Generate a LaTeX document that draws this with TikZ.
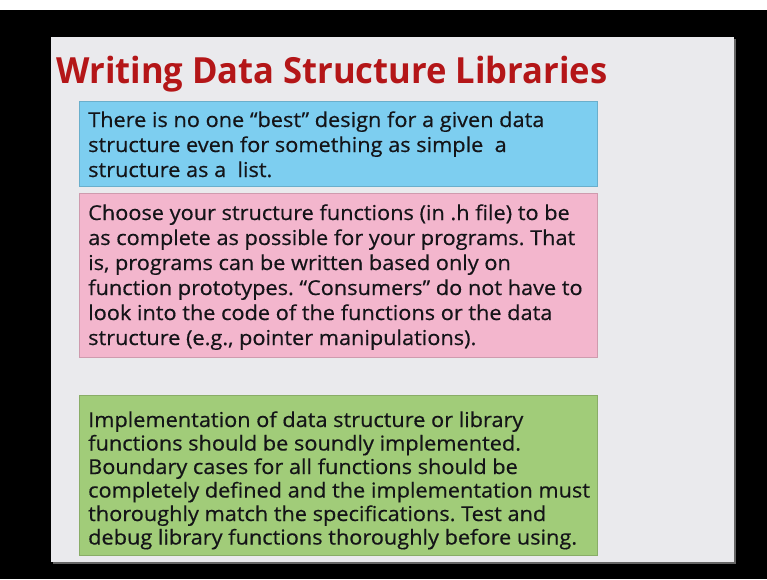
\documentclass[tikz,border=0pt]{standalone}
\usepackage{fontspec}
\setmainfont{Open Sans}
\newfontfamily\titlefont[FakeStretch=0.96]{Open Sans}
\newfontfamily\bodyfont[FakeStretch=1.06,FakeBold=0.5]{Open Sans}
\frenchspacing
\definecolor{slidebg}{RGB}{234,234,237}
\definecolor{titlered}{RGB}{180,22,24}
\definecolor{boxblue}{RGB}{125,206,240}
\definecolor{boxpink}{RGB}{243,182,205}
\definecolor{boxgreen}{RGB}{161,204,121}
\definecolor{textdark}{RGB}{20,20,24}
\begin{document}
\begin{tikzpicture}[x=1pt,y=-1pt,
  bodytext/.style={anchor=base west,inner sep=0pt,text=textdark,font=\bodyfont\fontsize{20.5}{25}\selectfont}]
\useasboundingbox (0,0) rectangle (767,579);
\fill[black] (0,0) rectangle (767,579);
\fill[white] (0,0) rectangle (767,10);
% slide
\fill[black!60] (53,39) rectangle (736,564);
\fill[slidebg] (51,37) rectangle (734,562);
% title
\node[anchor=base west,inner sep=0pt,text=titlered,font=\titlefont\bfseries\fontsize{36}{40}\selectfont] (title) at (56,83) {Writing Data Structure Libraries};
% boxes
\fill[boxblue!85!black] (79,101) rectangle (598,187);
\fill[boxblue] (80,102) rectangle (597,186);
\fill[boxpink!85!black] (79,193) rectangle (598,358);
\fill[boxpink] (80,194) rectangle (597,357);
\fill[boxgreen!85!black] (79,395) rectangle (598,556);
\fill[boxgreen] (80,396) rectangle (597,555);
% texts
\node[bodytext] (blue) at (88,127) {\vtop{\baselineskip=25pt
\hbox{There is no one “best” design for a given data}
\hbox{structure even for something as simple\ \ a}
\hbox{structure as a\ \ list.}}};
\node[bodytext] (pink) at (88,220) {\vtop{\baselineskip=25pt
\hbox{Choose your structure functions (in .h file) to be}
\hbox{as complete as possible for your programs. That}
\hbox{is, programs can be written based only on}
\hbox{function prototypes. “Consumers” do not have to}
\hbox{look into the code of the functions or the data}
\hbox{structure (e.g., pointer manipulations).}}};
\node[bodytext] (green) at (88,427) {\vtop{\baselineskip=23.5pt
\hbox{Implementation of data structure or library}
\hbox{functions should be soundly implemented.}
\hbox{Boundary cases for all functions should be}
\hbox{completely defined and the implementation must}
\hbox{thoroughly match the specifications. Test and}
\hbox{debug library functions thoroughly before using.}}};
\end{tikzpicture}
\end{document}
